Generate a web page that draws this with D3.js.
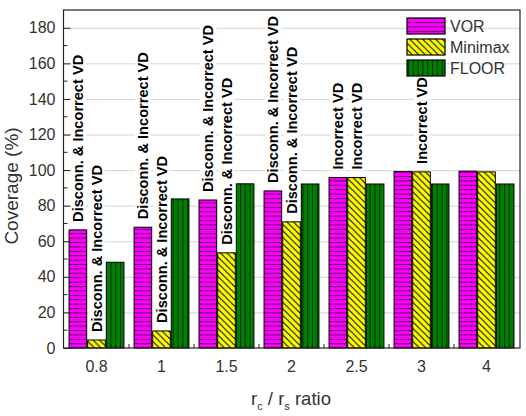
<!DOCTYPE html>
<html><head><meta charset="utf-8">
<script src="https://cdn.jsdelivr.net/npm/d3@7"></script>
<style>body{margin:0;background:#fff}svg{display:block;font-family:"Liberation Sans",Arial,sans-serif}</style>
</head><body>
<svg id="c" width="526" height="416"></svg>
<script>
const categories = ["0.8","1","1.5","2","2.5","3","4"];
const seriesNames = ["VOR","Minimax","FLOOR"];
const vor     = [66.4, 67.9, 83.2, 88.3, 95.8, 99.2, 99.4];
const minimax = [4.5, 9.6, 53.5, 70.9, 95.8, 99.0, 99.0];
const floorV  = [48.2, 83.8, 92.3, 92.2, 92.2, 92.2, 92.2];
const yTicks  = [0,20,40,60,80,100,120,140,160,180];
const L1 = "Disconn. & Incorrect VD", L2 = "Incorrect VD";
const vorNotes     = [L1, L1, L1, L1, L2, "", ""];
const minimaxNotes = [L1, L1, L1, L1, L2, L2, ""];

const svg = d3.select("#c");
const pL = 63.5, pR = 520, pT = 10, pB = 348;
const x = d3.scaleBand().domain(categories).range([pL+0.5, pR-1]).paddingInner(0.14).paddingOuter(0.07);
const xi = d3.scaleBand().domain(seriesNames).range([0, x.bandwidth()]);
const y = d3.scaleLinear().domain([0,190]).range([pB, pT]);

// patterns
const defs = svg.append("defs");
function pat(id, fill, w, h, draw){
  const p = defs.append("pattern").attr("id",id).attr("patternUnits","userSpaceOnUse").attr("width",w).attr("height",h);
  p.append("rect").attr("width",w).attr("height",h).attr("fill",fill);
  draw(p);
}
pat("pVOR","#ff00ff",10,4.4,p=>p.append("rect").attr("x",0).attr("y",0).attr("width",10).attr("height",1).attr("fill","#5a005a"));
pat("pMin","#ffff00",6.5,6.5,p=>{
  p.append("path").attr("d","M-1,-1 L7.5,7.5 M-1,5.5 L1,7.5 M5.5,-1 L7.5,1").attr("stroke","#000").attr("stroke-width",1.1);
});
pat("pFlo","#008000",4.8,10,p=>p.append("rect").attr("x",0).attr("y",0).attr("width",1).attr("height",10).attr("fill","#002800"));
const fills = {VOR:"url(#pVOR)", Minimax:"url(#pMin)", FLOOR:"url(#pFlo)"};

// grid
svg.append("g").selectAll("line").data(yTicks.filter(d=>d>0)).join("line")
  .attr("x1",pL).attr("x2",pR).attr("y1",d=>y(d)+0.5).attr("y2",d=>y(d)+0.5)
  .attr("stroke","#d4d4d4").attr("stroke-width",1);

// bars
const data = [];
categories.forEach((c,i)=>{
  data.push({c, s:"VOR", v:vor[i], note:vorNotes[i]});
  data.push({c, s:"Minimax", v:minimax[i], note:minimaxNotes[i]});
  data.push({c, s:"FLOOR", v:floorV[i], note:""});
});
svg.append("g").selectAll("rect").data(data).join("rect")
  .attr("x",d=>x(d.c)+xi(d.s)+0.5).attr("width",xi.bandwidth()-1)
  .attr("y",d=>y(d.v)).attr("height",d=>y(0)-y(d.v))
  .attr("fill",d=>fills[d.s]).attr("stroke","#000").attr("stroke-width",1);

// notes
const ng = svg.append("g");
data.filter(d=>d.note).forEach(d=>{
  const cx = x(d.c)+xi(d.s)+xi.bandwidth()/2;
  const by = y(d.v)-8;
  const g = ng.append("g").attr("transform",`translate(${cx+5.2},${by}) rotate(-90)`);
  const r = g.append("rect").attr("fill","#fff");
  const t = g.append("text").attr("x",0).attr("y",0).attr("font-size",14.6).attr("font-weight","bold").attr("fill","#000").text(d.note);
  const b = t.node().getBBox();
  r.attr("x",b.x-1).attr("y",b.y).attr("width",b.width+2).attr("height",b.height);
});

// axes frame
svg.append("rect").attr("x",pL).attr("y",pT).attr("width",pR-pL).attr("height",pB-pT)
  .attr("fill","none").attr("stroke","#222").attr("stroke-width",1.2);

// y ticks
const yAxis = d3.axisLeft(y).tickValues(yTicks).tickSizeInner(-7).tickSizeOuter(0).tickPadding(8);
const ya = svg.append("g").attr("transform",`translate(${pL},0)`).call(yAxis);
ya.select(".domain").remove();
ya.selectAll("text").attr("font-size",16).attr("fill","#333").attr("font-family","'Liberation Sans',Arial,sans-serif");
ya.selectAll("line").attr("stroke","#222");
svg.append("g").selectAll("line").data(d3.range(10,190,20)).join("line")
  .attr("x1",pL).attr("x2",pL+4).attr("y1",d=>y(d)).attr("y2",d=>y(d)).attr("stroke","#222");

// x axis
const xAxis = d3.axisBottom(x).tickSize(0).tickPadding(13);
const xa = svg.append("g").attr("transform",`translate(0,${pB})`).call(xAxis);
xa.select(".domain").remove();
xa.selectAll("text").attr("font-size",16).attr("fill","#333").attr("font-family","'Liberation Sans',Arial,sans-serif");
svg.append("g").selectAll("line").data(categories.slice(1)).join("line")
  .attr("x1",d=>x(d)-x.step()*x.paddingInner()/2).attr("x2",d=>x(d)-x.step()*x.paddingInner()/2)
  .attr("y1",pB).attr("y2",pB-4).attr("stroke","#222");

// axis titles
svg.append("text").attr("transform","translate(18,186) rotate(-90)").attr("text-anchor","middle")
  .attr("font-size",19).attr("fill","#333").text("Coverage (%)");
const xt = svg.append("text").attr("x",291).attr("y",405).attr("text-anchor","middle").attr("font-size",18.5).attr("fill","#333");
xt.append("tspan").text("r");
xt.append("tspan").attr("font-size",11).attr("dy",5).text("c");
xt.append("tspan").attr("dy",-5).text(" / r");
xt.append("tspan").attr("font-size",11).attr("dy",5).text("s");
xt.append("tspan").attr("dy",-5).text(" ratio");

// legend
const lg = svg.append("g");
seriesNames.forEach((s,i)=>{
  const yy = 18 + i*21;
  lg.append("rect").attr("x",407).attr("y",yy).attr("width",38).attr("height",16)
    .attr("fill",fills[s]).attr("stroke","#000").attr("stroke-width",1.2);
  lg.append("text").attr("x",450).attr("y",yy+14).attr("font-size",16).attr("fill","#333").text(s);
});
</script>
</body></html>
